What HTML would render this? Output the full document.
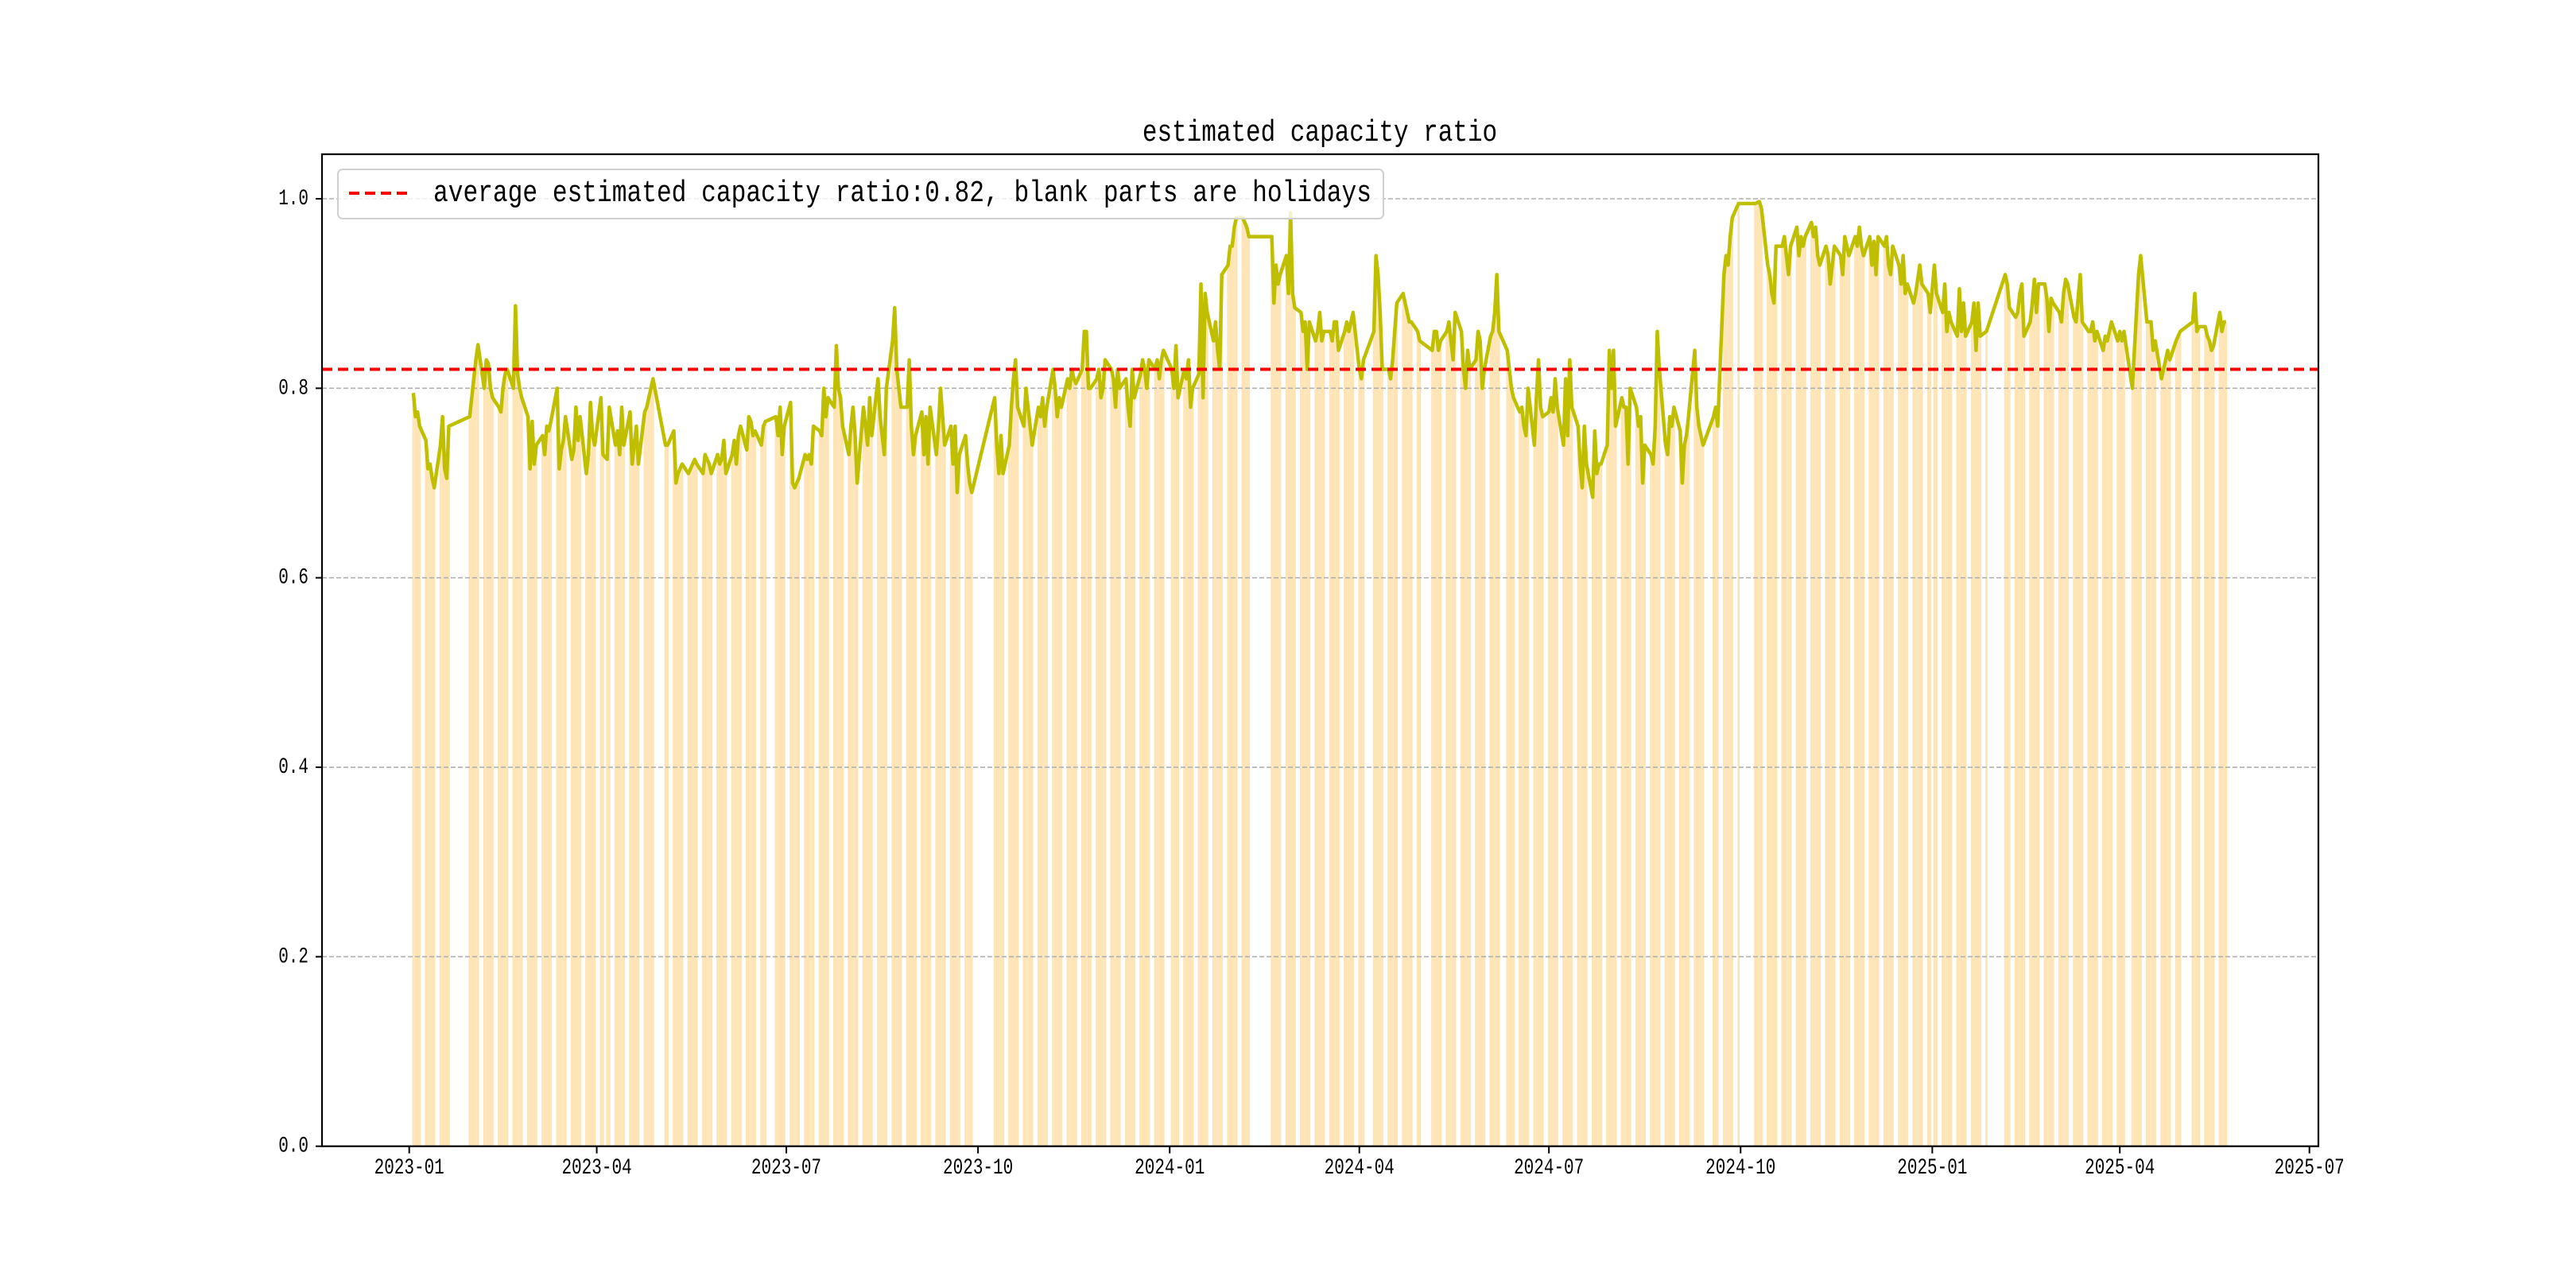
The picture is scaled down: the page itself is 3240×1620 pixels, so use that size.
<!DOCTYPE html>
<html><head><meta charset="utf-8">
<style>
html,body{margin:0;padding:0;background:#fff;}
svg{display:block;}
text{font-family:"Liberation Mono","Noto Sans CJK SC",monospace;fill:#000;}
</style></head>
<body>
<svg id="chart" width="3240" height="1620" viewBox="0 0 3240 1620" xmlns="http://www.w3.org/2000/svg">
<rect x="0" y="0" width="3240" height="1620" fill="#fff"/>
<g id="bars"></g>
<g id="grid"></g>
<g id="line"></g>
<g id="avg"></g>
<g id="axes"></g>
<text x="1660" y="177" text-anchor="middle" font-size="31" transform="translate(0,177) scale(1,1.22) translate(0,-177)">estimated capacity ratio</text>
<g>
<rect x="425" y="213" width="1315" height="62" rx="6" fill="#fff" fill-opacity="0.8" stroke="#d0d0d0" stroke-width="2"/>
<line x1="439" y1="243" x2="514" y2="243" stroke="#ff0000" stroke-width="4" stroke-dasharray="13,7"/>
<text x="545" y="253" font-size="31" textLength="1180" lengthAdjust="spacingAndGlyphs" transform="translate(0,253) scale(1,1.22) translate(0,-253)">average estimated capacity ratio:0.82, blank parts are holidays</text>
</g>
</svg>
<script>
// ---- data ----
const months = ["2023-01","2023-02","2023-03","2023-04","2023-05","2023-06","2023-07","2023-08","2023-09","2023-10","2023-11","2023-12",
"2024-01","2024-02","2024-03","2024-04","2024-05","2024-06","2024-07","2024-08","2024-09","2024-10","2024-11","2024-12",
"2025-01","2025-02","2025-03","2025-04","2025-05"];
const holidays = ["2023-01-02","2023-01-23","2023-01-24","2023-01-25","2023-01-26","2023-01-27","2023-04-05","2023-05-01","2023-05-02","2023-05-03",
"2023-06-22","2023-06-23","2023-09-29","2023-10-02","2023-10-03","2023-10-04","2023-10-05","2023-10-06",
"2024-01-01","2024-02-09","2024-02-12","2024-02-13","2024-02-14","2024-02-15","2024-02-16","2024-04-04","2024-04-05","2024-05-01","2024-05-02","2024-05-03",
"2024-06-10","2024-09-16","2024-09-17","2024-10-01","2024-10-02","2024-10-03","2024-10-04","2024-10-07",
"2025-01-01","2025-01-28","2025-01-29","2025-01-30","2025-01-31","2025-02-03","2025-02-04","2025-04-04","2025-05-01","2025-05-02","2025-05-05"];
const startDate = "2023-01-03";
const endDate = "2025-05-22";
const v2023a = [0.795,0.77,0.775,0.76,0.745,0.715,0.72,0.705,0.695,0.74,0.77,0.715,0.705,0.76,0.77,0.79,
0.81,0.83,0.846,0.80,0.83,0.826,0.80,0.79,0.78,0.775,0.80,0.815,0.82,0.80,0.887,0.815,0.80,0.79,0.77,0.715,
0.765,0.72,0.74,0.75,0.73,0.76,0.755,0.765,0.80,0.715,0.735,0.745,0.77,0.725,0.735,0.78,0.745,0.77,0.71,0.73,0.785,0.75,0.74,
0.79,0.73,0.725,0.78,0.74,0.755,0.73,0.78,0.74,0.775,0.72,0.74,0.76,0.72,0.775,0.78,0.79,0.80,0.81,
0.74,0.74,0.755,0.70,0.71,0.715,0.72,0.71,0.715,0.72,0.725,0.72,0.71,0.73,0.725,0.72,0.71,0.73,0.72,0.725,
0.745,0.71,0.73,0.745,0.72,0.75,0.76,0.735,0.77,0.765,0.75,0.755,0.74,0.76,0.765,0.77,0.75,0.78,0.73,0.76];
const v2023b = [0.785,0.70,0.695,0.70,0.705,0.73,0.725,0.73,0.72,0.76,0.755,0.75,0.80,0.77,0.79,0.78,0.845,0.80,0.79,0.76,0.73,
0.76,0.78,0.75,0.70,0.78,0.76,0.74,0.79,0.75,0.81,0.77,0.75,0.73,0.80,0.85,0.885,0.82,0.80,0.78,0.78,0.83,0.76,0.73,
0.75,0.775,0.73,0.77,0.72,0.78,0.73,0.76,0.80,0.77,0.74,0.76,0.72,0.76,0.69,0.73,0.75,0.72,0.70,0.69,
0.79,0.74,0.71,0.75,0.71,0.74,0.78,0.81,0.83,0.78,0.76,0.80,0.78,0.76,0.74,0.78,0.77,
0.79,0.76,0.78,0.82,0.80,0.77,0.79,0.78,0.81,0.80,0.82,0.81,0.805,0.82,0.86,0.86,0.80,0.80,0.81,0.82,0.79,0.80,
0.83,0.82,0.81,0.78,0.82,0.80,0.81,0.78,0.76,0.82,0.79,0.815,0.83,0.82,0.80,0.83,0.82,0.83,0.81,0.83,0.84];
const v2024a = [0.82,0.80,0.845,0.79,0.82,0.81,0.83,0.78,0.80,0.815,0.91,0.79,0.90,0.88,0.85,0.87,0.84,0.82,0.92,0.93,0.95,0.95,
0.97,0.98,0.98,0.975,0.97,0.96,0.96,0.89,0.93,0.91,0.92,0.94,0.90,0.985,0.90,
0.885,0.88,0.86,0.87,0.82,0.87,0.85,0.86,0.88,0.85,0.86,0.86,0.85,0.87,0.87,0.84,0.86,0.87,0.86,0.87,0.88,
0.82,0.81,0.83,0.86,0.94,0.92,0.88,0.82,0.82,0.81,0.83,0.86,0.89,0.90,0.89,0.88,0.87,0.87,0.86,0.85,
0.84,0.86,0.86,0.84,0.85,0.86,0.87,0.85,0.83,0.88,0.86,0.82,0.80,0.84,0.82,0.83,0.86,0.85,0.80,0.82,
0.855,0.86,0.88,0.92,0.86,0.84,0.82,0.80,0.79,0.775,0.78,0.76,0.75,0.80,0.74,0.79,0.83,0.78,0.77];
const v2024b = [0.775,0.79,0.775,0.81,0.78,0.74,0.81,0.75,0.83,0.78,0.76,0.72,0.695,0.76,0.72,0.685,0.755,0.71,0.72,0.72,0.74,0.84,0.80,
0.84,0.76,0.79,0.78,0.78,0.72,0.80,0.78,0.76,0.77,0.70,0.74,0.73,0.72,0.76,0.86,0.82,0.74,0.73,0.77,0.76,0.78,
0.755,0.70,0.74,0.75,0.77,0.84,0.78,0.76,0.75,0.74,0.77,0.78,0.76,0.92,0.94,0.93,0.96,0.98,0.995,
0.995,0.996,0.997,0.99,0.93,0.92,0.90,0.89,0.95,0.95,0.96,0.94,0.92,0.95,0.97,0.94,0.96,0.95,
0.96,0.975,0.96,0.97,0.94,0.93,0.95,0.94,0.91,0.93,0.95,0.94,0.92,0.96,0.95,0.94,0.96,0.95,0.97,0.95,0.94,
0.96,0.93,0.955,0.92,0.96,0.95,0.96,0.93,0.92,0.95,0.93,0.91,0.94,0.90,0.91,0.89,0.90,0.915,0.93,0.91,0.90,0.88];
const v2025 = [0.93,0.90,0.88,0.91,0.86,0.88,0.87,0.855,0.905,0.86,0.89,0.855,0.87,0.89,0.84,0.89,0.855,0.86,
0.92,0.91,0.885,0.875,0.88,0.90,0.91,0.855,0.87,0.89,0.915,0.88,0.91,0.91,0.895,0.86,0.895,0.89,0.88,0.87,
0.90,0.915,0.91,0.875,0.87,0.895,0.92,0.87,0.86,0.86,0.87,0.85,0.86,0.84,0.855,0.85,0.86,0.87,0.85,
0.86,0.85,0.86,0.80,0.84,0.88,0.92,0.94,0.87,0.87,0.87,0.84,0.85,0.81,0.82,0.83,0.84,0.83,0.85,0.855,0.86,
0.87,0.90,0.86,0.865,0.865,0.855,0.85,0.84,0.845,0.88,0.86,0.87,0.87];
const averageValue = 0.82;
const yTicks = [0.0,0.2,0.4,0.6,0.8,1.0];
const yTickLabels = ["0.0","0.2","0.4","0.6","0.8","1.0"];
const xTickDates = ["2023-01-01","2023-04-01","2023-07-01","2023-10-01","2024-01-01","2024-04-01","2024-07-01","2024-10-01","2025-01-01","2025-04-01","2025-07-01"];
const xTickLabels = ["2023-01","2023-04","2023-07","2023-10","2024-01","2024-04","2024-07","2024-10","2025-01","2025-04","2025-07"];

// ---- layout ----
const NS = "http://www.w3.org/2000/svg";
const L = 405, R = 2916, T = 194, B = 1441.7;
const X0 = 514.7, PXDAY = 2.6206;
const YMAX = 1.047;
const epoch = Date.UTC(2023,0,1);
function dayNum(s){const p=s.split("-");return (Date.UTC(+p[0],+p[1]-1,+p[2])-epoch)/86400000;}
function xScale(d){return X0 + d*PXDAY;}
function yScale(v){return B - v/YMAX*(B-T);}
function mk(tag, attrs, parent){const e=document.createElementNS(NS,tag);for(const k in attrs)e.setAttribute(k,attrs[k]);parent.appendChild(e);return e;}

const hol = new Set(holidays.map(dayNum));
const days = [];
for(let d=dayNum(startDate); d<=dayNum(endDate); d++){
  const wd = new Date(epoch + d*86400000).getUTCDay();
  if(wd===0||wd===6||hol.has(d)) continue;
  days.push(d);
}
const values = v2023a.concat(v2023b, v2024a, v2024b, v2025);
const n = Math.min(days.length, values.length);

const gB = document.getElementById("bars");
for(let i=0;i<n;i++){
  const x = xScale(days[i]-0.5), y = yScale(values[i]);
  const r = mk("rect",{x:x.toFixed(2),y:y.toFixed(2),width:(PXDAY).toFixed(2),height:(B-y).toFixed(2),fill:"#ffe4b5"},gB);
  
  
}
const gG = document.getElementById("grid");
for(let i=1;i<yTicks.length;i++){
  const y = yScale(yTicks[i]);
  const l = mk("line",{x1:L,x2:R,y1:y,y2:y,stroke:"#b0b0b0","stroke-width":1.6,"stroke-dasharray":"6,3"},gG);
  
  
}
const gL = document.getElementById("line");
let dstr = "";
for(let i=0;i<n;i++){dstr += (i?"L":"M")+xScale(days[i]).toFixed(2)+","+yScale(values[i]).toFixed(2);}
const path = mk("path",{d:dstr,fill:"none",stroke:"#bfbf00","stroke-width":4.5,"stroke-linejoin":"round"},gL);


const gA = document.getElementById("avg");
const ya = yScale(averageValue);
const al = mk("line",{x1:L,x2:R,y1:ya,y2:ya,stroke:"#ff0000","stroke-width":4,"stroke-dasharray":"13,7"},gA);


const gX = document.getElementById("axes");
const frame = mk("rect",{x:L,y:T,width:R-L,height:B-T,fill:"none",stroke:"#000","stroke-width":2.2},gX);


for(let i=0;i<yTicks.length;i++){
  const y = yScale(yTicks[i]);
  const t = mk("line",{x1:L-8,x2:L,y1:y,y2:y,stroke:"#000","stroke-width":2},gX);
  
  
  const tx = mk("text",{x:388,y:y+7,"text-anchor":"end","font-size":21,transform:`translate(0,${y+7}) scale(1,1.3) translate(0,${-(y+7)})`},gX);
  tx.textContent = yTickLabels[i];
  
  
}
for(let i=0;i<xTickDates.length;i++){
  const x = xScale(dayNum(xTickDates[i]));
  const t = mk("line",{x1:x,x2:x,y1:B,y2:B+9,stroke:"#000","stroke-width":2},gX);
  
  
  const tx = mk("text",{x:x,y:1476,"text-anchor":"middle","font-size":21,transform:`translate(0,1476) scale(1,1.3) translate(0,-1476)`},gX);
  tx.textContent = xTickLabels[i];
  
  
}
</script>
</body></html>
